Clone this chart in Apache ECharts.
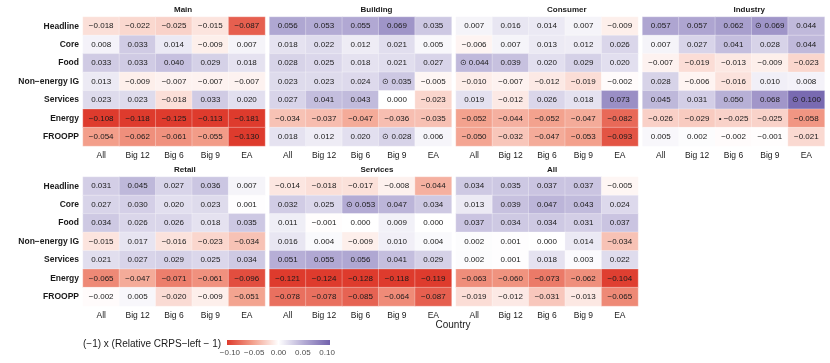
<!DOCTYPE html>
<html>
<head>
<meta charset="utf-8">
<script src="https://cdn.jsdelivr.net/npm/echarts@6/dist/echarts.min.js"></script>
<style>
  html, body { margin: 0; padding: 0; background: #fff; }
  #chart { width: 830px; height: 363px; }
</style>
</head>
<body>
<div id="chart"></div>
<script>
const rows = ['Headline', 'Core', 'Food', 'Non\u2212energy IG', 'Services', 'Energy', 'FROOPP']
const cols = ['All', 'Big 12', 'Big 6', 'Big 9', 'EA']
const panels = ['Main', 'Building', 'Consumer', 'Industry', 'Retail', 'Services', 'All']

const mainValues = [
  [-0.018, -0.022, -0.025, -0.015, -0.087],
  [0.008, 0.033, 0.014, -0.009, 0.007],
  [0.033, 0.033, 0.040, 0.029, 0.018],
  [0.013, -0.009, -0.007, -0.007, -0.007],
  [0.023, 0.023, -0.018, 0.033, 0.020],
  [-0.108, -0.118, -0.125, -0.113, -0.181],
  [-0.054, -0.062, -0.061, -0.055, -0.130],
]
const buildingValues = [
  [0.056, 0.053, 0.055, 0.069, 0.035],
  [0.018, 0.022, 0.012, 0.021, 0.005],
  [0.028, 0.025, 0.018, 0.021, 0.027],
  [0.023, 0.023, 0.024, 0.035, -0.005],
  [0.027, 0.041, 0.043, 0.000, -0.023],
  [-0.034, -0.037, -0.047, -0.036, -0.035],
  [0.018, 0.012, 0.020, 0.028, 0.006],
]
const consumerValues = [
  [0.007, 0.016, 0.014, 0.007, -0.009],
  [-0.006, 0.007, 0.013, 0.012, 0.026],
  [0.044, 0.039, 0.020, 0.029, 0.020],
  [-0.010, -0.007, -0.012, -0.019, -0.002],
  [0.019, -0.012, 0.026, 0.018, 0.073],
  [-0.052, -0.044, -0.052, -0.047, -0.082],
  [-0.050, -0.032, -0.047, -0.053, -0.093],
]
const industryValues = [
  [0.057, 0.057, 0.062, 0.069, 0.044],
  [0.007, 0.027, 0.041, 0.028, 0.044],
  [-0.007, -0.019, -0.013, -0.009, -0.023],
  [0.028, -0.006, -0.016, 0.010, 0.008],
  [0.045, 0.031, 0.050, 0.068, 0.100],
  [-0.026, -0.029, -0.025, -0.025, -0.058],
  [0.005, 0.002, -0.002, -0.001, -0.021],
]
const retailValues = [
  [0.031, 0.045, 0.027, 0.036, 0.007],
  [0.027, 0.030, 0.020, 0.023, 0.001],
  [0.034, 0.026, 0.026, 0.018, 0.035],
  [-0.015, 0.017, -0.016, -0.023, -0.034],
  [0.021, 0.027, 0.029, 0.025, 0.034],
  [-0.065, -0.047, -0.071, -0.061, -0.096],
  [-0.002, 0.005, -0.020, -0.009, -0.051],
]
const servicesValues = [
  [-0.014, -0.018, -0.017, -0.008, -0.044],
  [0.032, 0.025, 0.053, 0.047, 0.034],
  [0.011, -0.001, 0.000, 0.009, 0.000],
  [0.016, 0.004, -0.009, 0.010, 0.004],
  [0.051, 0.055, 0.056, 0.041, 0.029],
  [-0.121, -0.124, -0.128, -0.118, -0.119],
  [-0.078, -0.078, -0.085, -0.064, -0.087],
]
const allValues = [
  [0.034, 0.035, 0.037, 0.037, -0.005],
  [0.013, 0.039, 0.047, 0.043, 0.024],
  [0.037, 0.034, 0.034, 0.031, 0.037],
  [0.002, 0.001, 0.000, 0.014, -0.034],
  [0.002, 0.001, 0.018, 0.003, 0.022],
  [-0.063, -0.060, -0.073, -0.062, -0.104],
  [-0.019, -0.012, -0.031, -0.013, -0.065],
]
const panelValues = [mainValues, buildingValues, consumerValues, industryValues, retailValues, servicesValues, allValues]

// [panel, row, column, marker]
const marks = [
  [1, 3, 3, '\u2299'],
  [1, 6, 3, '\u2299'],
  [2, 2, 0, '\u2299'],
  [3, 0, 3, '\u2299'],
  [3, 4, 4, '\u2299'],
  [3, 5, 2, '\u2022'],
  [5, 1, 2, '\u2299'],
]

const legendTicks = [-0.10, -0.05, 0.00, 0.05, 0.10]
const limit = 0.106
const colorStops = ['#de3b2d', '#f3a08c', '#ffffff', '#b3abd4', '#7262ad']

const font = 'Liberation Sans, Arial, sans-serif'
const fmt = v => v.toFixed(3).replace('-', '\u2212')

const colLeft = [83, 269.5, 456, 642.5]
const rowTop = [17, 177]
const cellW = 182
const cellH = 129

const chart = echarts.init(document.getElementById('chart'))

const grids = []
const xAxes = []
const yAxes = []
const series = []
const graphics = []

panels.forEach((name, p) => {
  const c = p % 4
  const r = Math.floor(p / 4)
  grids.push({ left: colLeft[c], top: rowTop[r], width: cellW, height: cellH })
  xAxes.push({
    type: 'category', gridIndex: p, data: cols,
    axisLine: { show: false }, axisTick: { show: false }, splitLine: { show: false },
    axisLabel: { color: '#1a1a1a', fontSize: 8.5, fontFamily: font, margin: 5 },
  })
  yAxes.push({
    type: 'category', gridIndex: p, data: rows, inverse: true,
    axisLine: { show: false }, axisTick: { show: false }, splitLine: { show: false },
    axisLabel: { show: c === 0, color: '#1a1a1a', fontSize: 8.5, fontWeight: 'bold', fontFamily: font, margin: 4 },
  })
  const data = []
  panelValues[p].forEach((rowVals, ri) => {
    rowVals.forEach((v, ci) => {
      const clamped = Math.max(-limit, Math.min(limit, v))
      const m = marks.find(k => k[0] === p && k[1] === ri && k[2] === ci)
      data.push({ value: [ci, ri, v, clamped], mark: m ? m[3] : '' })
    })
  })
  series.push({
    type: 'heatmap', xAxisIndex: p, yAxisIndex: p, data,
    itemStyle: { borderColor: 'rgba(255,255,255,0.6)', borderWidth: 0.5 },
    label: {
      show: true, fontSize: 8, fontFamily: font, color: '#1a1a1a',
      formatter: prm => (prm.data.mark ? prm.data.mark + ' ' : '') + fmt(prm.data.value[2]),
    },
    emphasis: { disabled: true },
  })
  graphics.push({
    type: 'text', left: colLeft[c] + cellW / 2, top: rowTop[r] - 11,
    style: { text: name, font: 'bold 8px ' + font, fill: '#1a1a1a', textAlign: 'center' },
  })
})

// x axis title
graphics.push({
  type: 'text', x: 453, y: 325,
  style: { text: 'Country', font: '10px ' + font, fill: '#1a1a1a', textAlign: 'center', textVerticalAlign: 'middle' },
})
// legend title
graphics.push({
  type: 'text', x: 83, y: 344,
  style: { text: '(\u22121) x (Relative CRPS\u2212left \u2212 1)', font: '10px ' + font, fill: '#1a1a1a', textAlign: 'left', textVerticalAlign: 'middle' },
})
// colour bar
const barX = 227
const barW = 103
graphics.push({
  type: 'rect', shape: { x: barX, y: 340, width: barW, height: 5 },
  style: {
    fill: new echarts.graphic.LinearGradient(0, 0, 1, 0,
      colorStops.map((col, i) => ({ offset: i / (colorStops.length - 1), color: col }))),
  },
})
legendTicks.forEach(t => {
  const x = barX + (t + limit) / (2 * limit) * barW
  graphics.push({
    type: 'text', x, y: 353,
    style: { text: fmt(t).replace(/(\.\d\d)0$/, '$1'), font: '8px ' + font, fill: '#4d4d4d', textAlign: 'center', textVerticalAlign: 'middle' },
  })
})

chart.setOption({
  animation: false,
  backgroundColor: '#fff',
  grid: grids,
  xAxis: xAxes,
  yAxis: yAxes,
  visualMap: {
    show: false, type: 'continuous', dimension: 3,
    min: -limit, max: limit, inRange: { color: colorStops },
    seriesIndex: series.map((s, i) => i),
  },
  series,
  graphic: graphics,
})
</script>
</body>
</html>
